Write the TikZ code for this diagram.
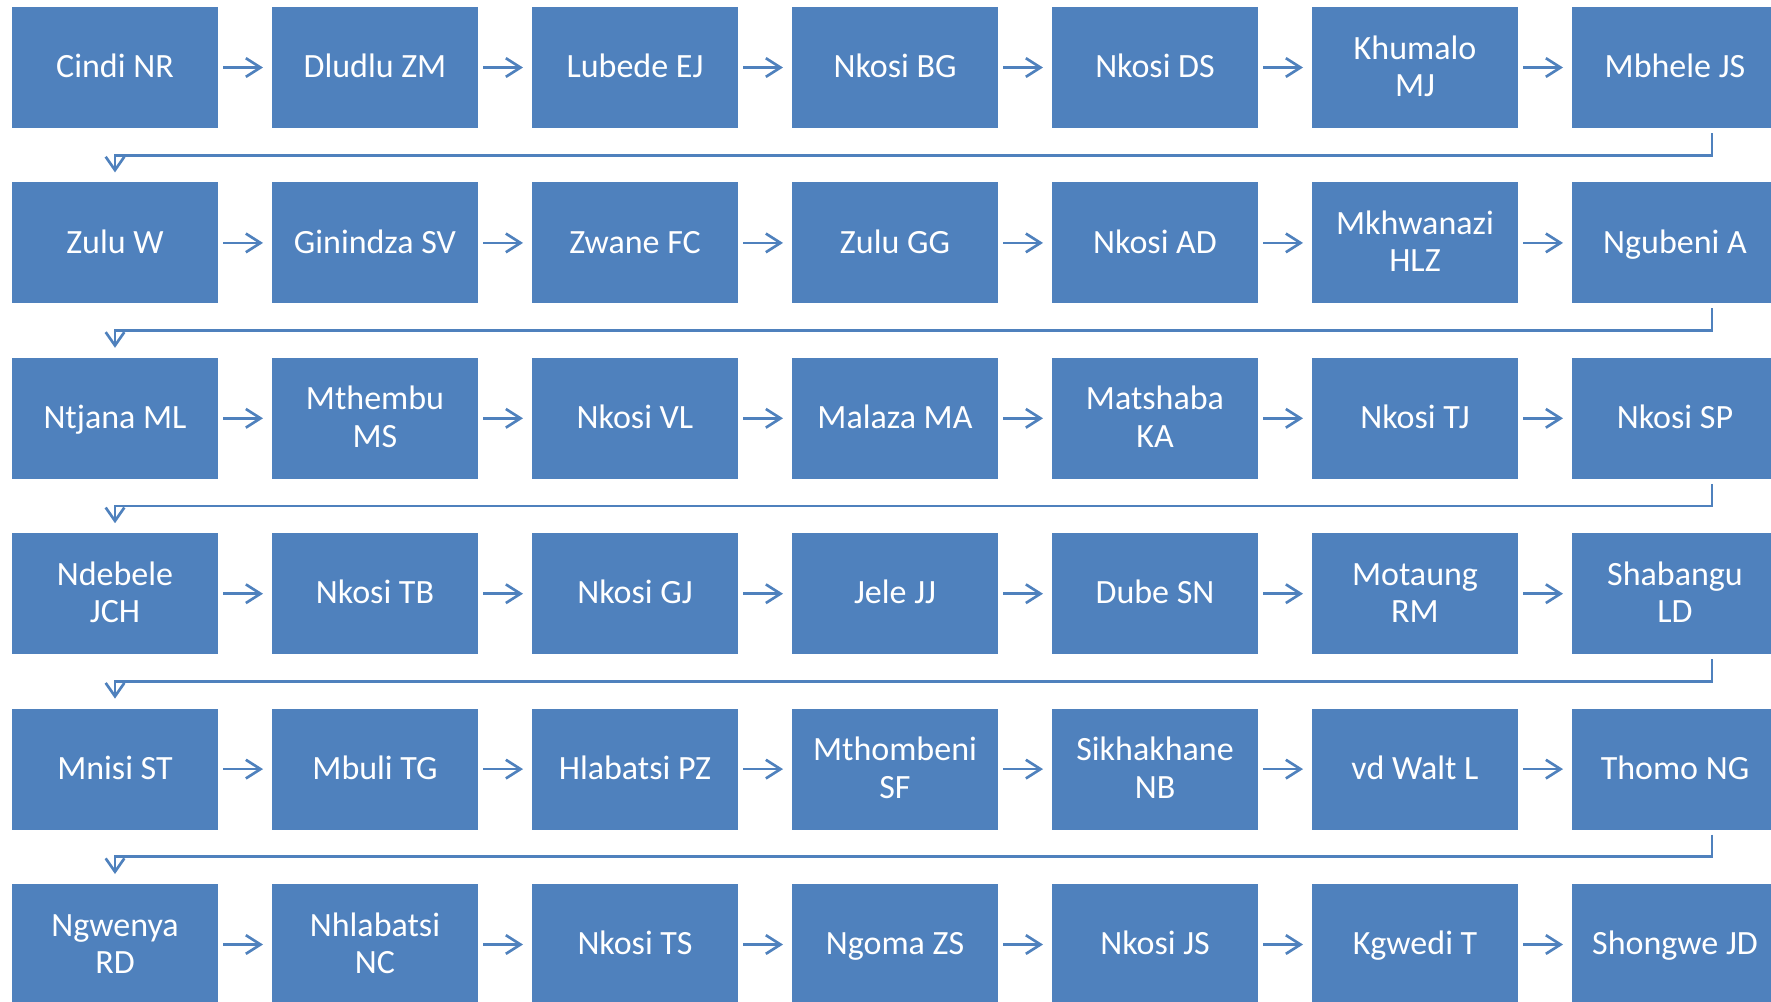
\documentclass[tikz,border=0pt]{standalone}
\usepackage{fontspec}
\setmainfont{Carlito}
\usepackage{tikz}
\usetikzlibrary{arrows.meta, positioning}
\definecolor{boxblue}{RGB}{79, 129, 189}
\newcommand{\boxstrut}{\rule[-8.6pt]{0pt}{32.6pt}}

\begin{document}
\begin{tikzpicture}[node distance=40.8pt and 40.5pt,
    block/.style={rectangle, fill=boxblue, text=white, minimum width=154.5pt, minimum height=90.75pt, inner sep=0pt, outer sep=0pt, align=center, font=\fontsize{25.5}{28}\selectfont, execute at end node=\boxstrut},
    line/.style={draw=boxblue, line width=2pt, -{Straight Barb[length=11pt,width=14pt]}, shorten <=3.75pt, shorten >=6.75pt},
    wrapline/.style={draw=boxblue, line width=2pt, -{Straight Barb[length=10pt,width=14pt]}, shorten <=3.75pt, shorten >=7.5pt}]

    \useasboundingbox (0,0) rectangle (1328.25pt,-750.75pt);

    % row 1
    \node [block, anchor=north west] (cindi) at (9pt,-5.25pt) {Cindi NR};
    \node [block, right=of cindi] (dludlu) {Dludlu ZM};
    \node [block, right=of dludlu] (lubede) {Lubede EJ};
    \node [block, right=of lubede] (nkosibg) {Nkosi BG};
    \node [block, right=of nkosibg] (nkosids) {Nkosi DS};
    \node [block, right=of nkosids] (khumalo) {\boxstrut Khumalo\\MJ};
    \node [block, right=of khumalo] (mbhele) {Mbhele JS};

    % row 2
    \node [block, below=of cindi] (zuluw) {Zulu W};
    \node [block, right=of zuluw] (ginindza) {Ginindza SV};
    \node [block, right=of ginindza] (zwane) {Zwane FC};
    \node [block, right=of zwane] (zulugg) {Zulu GG};
    \node [block, right=of zulugg] (nkosiad) {Nkosi AD};
    \node [block, right=of nkosiad] (mkhwanazi) {\boxstrut Mkhwanazi\\HLZ};
    \node [block, right=of mkhwanazi] (ngubeni) {Ngubeni A};

    % row 3
    \node [block, below=of zuluw] (ntjana) {Ntjana ML};
    \node [block, right=of ntjana] (mthembu) {\boxstrut Mthembu\\MS};
    \node [block, right=of mthembu] (nkosivl) {Nkosi VL};
    \node [block, right=of nkosivl] (malaza) {Malaza MA};
    \node [block, right=of malaza] (matshaba) {\boxstrut Matshaba\\KA};
    \node [block, right=of matshaba] (nkositj) {Nkosi TJ};
    \node [block, right=of nkositj] (nkosisp) {Nkosi SP};

    % row 4
    \node [block, below=of ntjana] (ndebele) {\boxstrut Ndebele\\JCH};
    \node [block, right=of ndebele] (nkositb) {Nkosi TB};
    \node [block, right=of nkositb] (nkosigj) {Nkosi GJ};
    \node [block, right=of nkosigj] (jele) {Jele JJ};
    \node [block, right=of jele] (dube) {Dube SN};
    \node [block, right=of dube] (motaung) {\boxstrut Motaung\\RM};
    \node [block, right=of motaung] (shabangu) {\boxstrut Shabangu\\LD};

    % row 5
    \node [block, below=of ndebele] (mnisi) {Mnisi ST};
    \node [block, right=of mnisi] (mbuli) {Mbuli TG};
    \node [block, right=of mbuli] (hlabatsi) {Hlabatsi PZ};
    \node [block, right=of hlabatsi] (mthombeni) {\boxstrut Mthombeni\\SF};
    \node [block, right=of mthombeni] (sikhakhane) {\boxstrut Sikhakhane\\NB};
    \node [block, right=of sikhakhane] (vdwalt) {vd Walt L};
    \node [block, right=of vdwalt] (thomo) {Thomo NG};

    % row 6
    \node [block, below=of mnisi] (ngwenya) {\boxstrut Ngwenya\\RD};
    \node [block, right=of ngwenya] (nhlabatsi) {\boxstrut Nhlabatsi\\NC};
    \node [block, right=of nhlabatsi] (nkosits) {Nkosi TS};
    \node [block, right=of nkosits] (ngoma) {Ngoma ZS};
    \node [block, right=of ngoma] (nkosijs) {Nkosi JS};
    \node [block, right=of nkosijs] (kgwedi) {Kgwedi T};
    \node [block, right=of kgwedi] (shongwe) {Shongwe JD};

    \path [line] (cindi) -- (dludlu);
    \path [line] (dludlu) -- (lubede);
    \path [line] (lubede) -- (nkosibg);
    \path [line] (nkosibg) -- (nkosids);
    \path [line] (nkosids) -- (khumalo);
    \path [line] (khumalo) -- (mbhele);
    \path [wrapline] ([xshift=27.75pt]mbhele.south) -- ++(0,-20.4pt) -| (zuluw.north);

    \path [line] (zuluw) -- (ginindza);
    \path [line] (ginindza) -- (zwane);
    \path [line] (zwane) -- (zulugg);
    \path [line] (zulugg) -- (nkosiad);
    \path [line] (nkosiad) -- (mkhwanazi);
    \path [line] (mkhwanazi) -- (ngubeni);
    \path [wrapline] ([xshift=27.75pt]ngubeni.south) -- ++(0,-20.4pt) -| (ntjana.north);

    \path [line] (ntjana) -- (mthembu);
    \path [line] (mthembu) -- (nkosivl);
    \path [line] (nkosivl) -- (malaza);
    \path [line] (malaza) -- (matshaba);
    \path [line] (matshaba) -- (nkositj);
    \path [line] (nkositj) -- (nkosisp);
    \path [wrapline] ([xshift=27.75pt]nkosisp.south) -- ++(0,-20.4pt) -| (ndebele.north);

    \path [line] (ndebele) -- (nkositb);
    \path [line] (nkositb) -- (nkosigj);
    \path [line] (nkosigj) -- (jele);
    \path [line] (jele) -- (dube);
    \path [line] (dube) -- (motaung);
    \path [line] (motaung) -- (shabangu);
    \path [wrapline] ([xshift=27.75pt]shabangu.south) -- ++(0,-20.4pt) -| (mnisi.north);

    \path [line] (mnisi) -- (mbuli);
    \path [line] (mbuli) -- (hlabatsi);
    \path [line] (hlabatsi) -- (mthombeni);
    \path [line] (mthombeni) -- (sikhakhane);
    \path [line] (sikhakhane) -- (vdwalt);
    \path [line] (vdwalt) -- (thomo);
    \path [wrapline] ([xshift=27.75pt]thomo.south) -- ++(0,-20.4pt) -| (ngwenya.north);

    \path [line] (ngwenya) -- (nhlabatsi);
    \path [line] (nhlabatsi) -- (nkosits);
    \path [line] (nkosits) -- (ngoma);
    \path [line] (ngoma) -- (nkosijs);
    \path [line] (nkosijs) -- (kgwedi);
    \path [line] (kgwedi) -- (shongwe);
\end{tikzpicture}
\end{document}
